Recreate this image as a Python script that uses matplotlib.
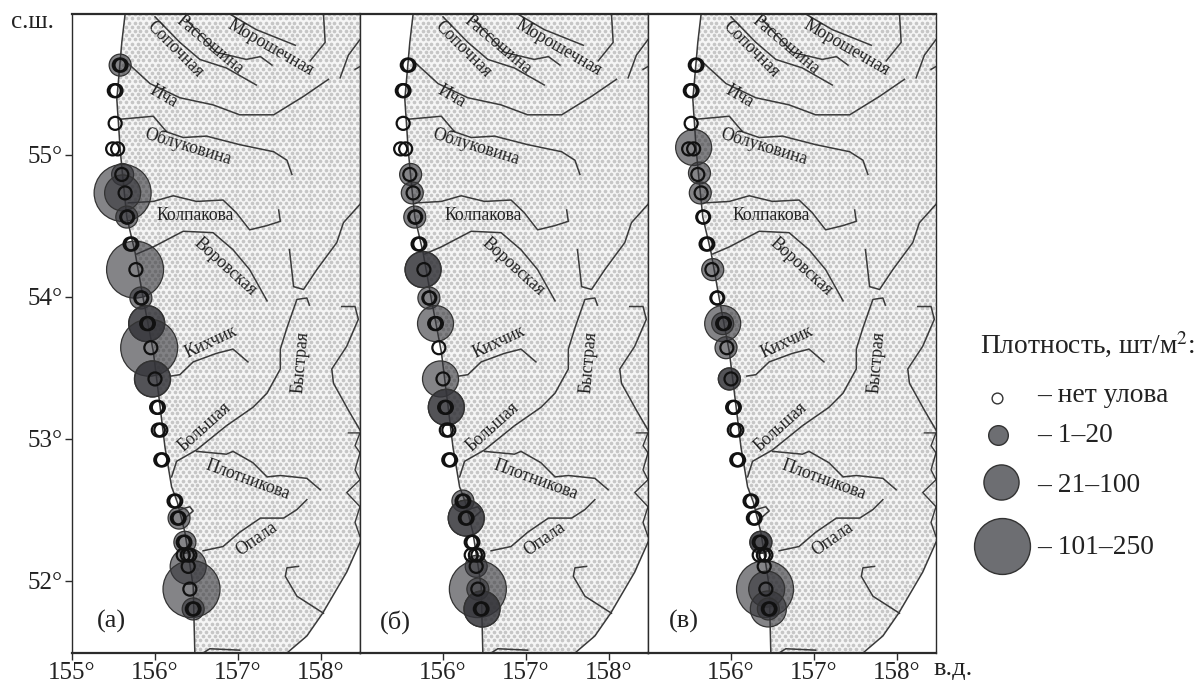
#!/usr/bin/python
# Stations and catch density along west Kamchatka, three surveys

import numpy as np
import matplotlib
matplotlib.use("Agg")
import matplotlib.pyplot as plt
from matplotlib.patches import Polygon

plt.rcParams['font.family'] = ['Liberation Serif', 'DejaVu Serif']

#################################
# data, degrees
#################################
lon_min, lon_max = 155.0, 158.47
lat_min, lat_max = 51.49, 55.99
x_ticks = [155, 156, 157, 158]
y_ticks = [52, 53, 54, 55]

coast_west = [(155.64, 55.99), (155.60, 55.79), (155.54, 55.39), (155.58, 55.04), (155.61, 54.85),
              (155.66, 54.56), (155.76, 54.31), (155.86, 53.98), (155.98, 53.61), (156.06, 53.23),
              (156.12, 52.94), (156.20, 52.66), (156.27, 52.55), (156.36, 52.34), (156.46, 51.96),
              (156.48, 51.49)]
coast_east = [(157.59, 51.49), (157.83, 51.61), (158.02, 51.77), (158.31, 52.06), (158.47, 52.27)]
coast_jag = [(158.33, 53.04), (158.47, 53.04), (158.41, 52.95), (158.47, 52.90), (158.41, 52.78),
             (158.47, 52.71), (158.31, 52.62), (158.47, 52.52), (158.41, 52.41), (158.47, 52.31)]

rivers = [
    [(156.00, 55.97), (156.30, 55.79), (156.54, 55.67), (156.86, 55.61), (157.22, 55.49)],
    [(156.38, 55.95), (156.74, 55.72), (157.10, 55.67), (157.27, 55.69), (157.41, 55.63)],
    [(156.90, 55.99), (157.22, 55.88), (157.69, 55.77)],
    [(158.03, 55.99), (158.05, 55.79), (157.87, 55.66)],
    [(155.66, 55.65), (155.94, 55.50), (156.30, 55.40), (156.70, 55.35), (157.02, 55.28),
     (157.43, 55.28), (157.79, 55.41), (158.09, 55.53)],
    [(155.60, 55.25), (155.98, 55.27), (156.14, 55.16), (156.34, 55.12), (156.62, 55.13),
     (157.02, 55.07), (157.43, 55.02), (157.59, 54.96), (157.65, 54.86)],
    [(155.68, 54.66), (155.98, 54.67), (156.22, 54.71), (156.50, 54.67), (156.82, 54.68),
     (156.98, 54.59), (157.14, 54.47), (157.35, 54.50), (157.51, 54.53), (157.49, 54.61)],
    [(155.78, 54.30), (155.98, 54.35), (156.34, 54.46), (156.70, 54.45), (156.94, 54.33),
     (157.14, 54.19), (157.35, 53.97)],
    [(158.47, 55.81), (158.33, 55.70), (158.23, 55.54)],
    [(158.41, 55.60), (158.47, 55.62)],
    [(158.47, 54.65), (158.27, 54.52), (158.19, 54.38), (157.95, 54.19), (157.79, 54.05),
     (157.67, 54.07), (157.62, 54.33)],
    [(157.86, 53.94), (157.83, 53.99), (157.71, 53.98), (157.59, 53.78), (157.51, 53.63),
     (157.51, 53.49), (157.35, 53.32), (157.18, 53.22), (156.86, 53.09), (156.50, 52.92),
     (156.26, 52.84), (156.20, 52.73)],
    [(158.25, 53.93), (158.41, 53.93), (158.45, 53.84), (158.31, 53.65), (158.13, 53.49),
     (158.15, 53.39), (158.33, 53.20), (158.47, 53.06)],
    [(156.50, 52.91), (156.86, 52.89), (156.94, 52.91), (157.18, 52.83), (157.35, 52.73),
     (157.51, 52.74), (157.83, 52.72), (157.99, 52.64)],
    [(156.19, 53.44), (156.30, 53.45), (156.46, 53.54), (156.74, 53.60), (156.94, 53.63),
     (157.12, 53.54)],
    [(156.58, 52.21), (156.82, 52.24), (157.02, 52.34), (157.27, 52.44), (157.55, 52.44),
     (157.71, 52.50), (157.83, 52.57)],
    [(157.73, 52.10), (157.59, 52.09), (157.57, 52.03), (157.71, 51.89), (158.03, 51.77)],
    [(156.58, 51.49), (156.66, 51.52), (157.02, 51.51)],
    [(156.30, 52.50), (156.42, 52.52), (156.46, 52.49), (156.38, 52.45)],
]

river_names = ['Морошечная', 'Рассошина', 'Сопочная', 'Ича', 'Облуковина', 'Колпакова',
               'Воровская', 'Кихчик', 'Быстрая', 'Большая', 'Плотникова', 'Опала']
name_lon = [157.39, 156.66, 156.24, 156.10, 156.40, 156.48, 156.84, 156.67, 157.75, 156.60, 157.12, 157.23]
name_lat = [55.75, 55.77, 55.74, 55.41, 55.06, 54.57, 54.21, 53.68, 53.54, 53.08, 52.71, 52.29]
name_rot = [-30, -40, -45, -30, -17, 0, -42, 25, 85, 42, -20, 35]

# stations without catch (some were done twice, so rings double)
ring_lon = [155.57, 155.59, 155.51, 155.53, 155.52, 155.49, 155.55, 155.60, 155.64, 155.66, 155.67,
            155.70, 155.72, 155.77, 155.83, 155.84, 155.92, 155.90, 155.95, 156.00, 156.02, 156.04,
            156.04, 156.07, 156.07, 156.09, 156.23, 156.25, 156.27, 156.29, 156.36, 156.34, 156.34,
            156.39, 156.42, 156.40, 156.42, 156.45, 156.47]
ring_lat = [55.63, 55.63, 55.45, 55.45, 55.22, 55.04, 55.04, 54.86, 54.73, 54.56, 54.56,
            54.37, 54.37, 54.19, 53.99, 53.99, 53.81, 53.81, 53.64, 53.42, 53.22, 53.22,
            53.06, 53.06, 52.85, 52.85, 52.56, 52.56, 52.44, 52.44, 52.27, 52.27, 52.18,
            52.18, 52.18, 52.10, 51.94, 51.80, 51.80]

# catches: lon, lat, size class 1..3
a_lon = [155.58, 155.61, 155.61, 155.61, 155.66, 155.76, 155.83, 155.90, 155.90, 155.93, 155.97, 155.97, 156.29, 156.36, 156.40, 156.44, 156.46]
a_lat = [55.63, 54.86, 54.73, 54.73, 54.56, 54.19, 53.99, 53.81, 53.81, 53.64, 53.42, 53.42, 52.44, 52.27, 52.10, 51.94, 51.80]
a_cls = [1, 1, 3, 2, 1, 3, 1, 2, 2, 3, 2, 2, 1, 1, 2, 3, 1]

b_lon = [155.61, 155.63, 155.66, 155.76, 155.76, 155.83, 155.91, 155.97, 156.04, 156.04, 156.24, 156.28, 156.28, 156.40, 156.42, 156.42, 156.47, 156.47]
b_lat = [54.86, 54.73, 54.56, 54.19, 54.19, 53.99, 53.81, 53.42, 53.22, 53.22, 52.56, 52.44, 52.44, 52.10, 51.94, 51.94, 51.80, 51.80]
b_cls = [1, 1, 1, 2, 2, 1, 2, 2, 2, 2, 1, 2, 2, 1, 3, 1, 2, 2]

c_lon = [155.55, 155.62, 155.63, 155.78, 155.90, 155.90, 155.94, 155.98, 155.98, 156.36, 156.36, 156.41, 156.43, 156.45, 156.45]
c_lat = [55.05, 54.87, 54.73, 54.19, 53.81, 53.81, 53.64, 53.42, 53.42, 52.27, 52.27, 51.94, 51.94, 51.80, 51.80]
c_cls = [2, 1, 1, 1, 2, 1, 1, 1, 1, 1, 1, 3, 2, 2, 1]

panel_names = ['(а)', '(б)', '(в)']
legend_labels = ['– нет улова', '– 1–20', '– 21–100', '– 101–250']

#################################
# styles
#################################
size_by_class = {0: 88, 1: 250, 2: 672, 3: 1684}   # pt^2
line_col = '#3a3a3a'
frame_col = '#2b2b2b'
fill_col = (0.2, 0.2, 0.22, 0.6)
fsize = 18

fig = plt.figure(figsize=(12, 6.87), dpi=100)
W, H = 1200.0, 687.0

# stipple for land
dot_x, dot_y = np.meshgrid(np.arange(lon_min, lon_max, 0.0687), np.arange(lat_min, lat_max, 0.0296))
dot_x = dot_x + 0.03435 * (np.arange(dot_x.shape[0]) % 2)[:, None]

panels = [(a_lon, a_lat, a_cls), (b_lon, b_lat, b_cls), (c_lon, c_lat, c_cls)]
lefts = [72, 360, 648]
for n in range(3):
    ax = fig.add_axes([lefts[n] / W, 34 / H, 288 / W, 639 / H])
    ax.set_xlim(lon_min, lon_max)
    ax.set_ylim(lat_min, lat_max)

    land = Polygon(coast_west + coast_east + [(lon_max, lat_max)], closed=True,
                   facecolor='#f6f6f6', edgecolor='none', zorder=1)
    ax.add_patch(land)
    dots = ax.scatter(dot_x.ravel(), dot_y.ravel(), s=7, color='#c6c6c6', linewidths=0, zorder=1.5)
    dots.set_clip_path(land)

    ax.plot(*zip(*coast_jag), color=line_col, lw=1.0, zorder=2)
    ax.plot(*zip(*coast_west), color=line_col, lw=1.1, zorder=2)
    ax.plot(*zip(*coast_east), color=line_col, lw=1.1, zorder=2)
    for river in rivers:
        ax.plot(*zip(*river), color=line_col, lw=1.1, zorder=2)

    for name, x, y, r in zip(river_names, name_lon, name_lat, name_rot):
        ax.text(x, y, name, rotation=r, rotation_mode='anchor', ha='center', va='center',
                fontsize=12.7, color='#222222', zorder=2.5)

    lon, lat, cls = panels[n]
    ax.scatter(lon, lat, s=[size_by_class[c] for c in cls], facecolor=fill_col,
               edgecolor='#333333', linewidths=0.9, zorder=3)
    ax.scatter(ring_lon, ring_lat, s=size_by_class[0], facecolor='none',
               edgecolor='#111111', linewidths=1.6, zorder=4)

    ax.text(155.48 if n == 0 else 155.43, 51.71, panel_names[n], fontsize=19, ha='center', va='center',
            color='#222222', zorder=5)

    ax.set_xticks(x_ticks if n == 0 else x_ticks[1:])
    ax.set_xticklabels(['%d°' % t for t in (x_ticks if n == 0 else x_ticks[1:])], fontsize=fsize, color='#222222')
    ax.set_yticks(y_ticks if n == 0 else [])
    if n == 0:
        ax.set_yticklabels(['%d°' % t for t in y_ticks], fontsize=fsize, color='#222222')
    ax.tick_params(axis='both', length=5, width=1.0, color=frame_col, pad=1.5)
    for side in ax.spines:
        ax.spines[side].set_color(frame_col)
        ax.spines[side].set_linewidth(1.0)
    ax.spines['top'].set_linewidth(1.6)
    ax.spines['bottom'].set_linewidth(1.6)

# overlay in pixels for the outer labels and the legend
ov = fig.add_axes([0, 0, 1, 1])
ov.set_xlim(0, W)
ov.set_ylim(H, 0)
ov.axis('off')
ov.patch.set_alpha(0)

ov.text(11, 22, 'с.ш.', fontsize=18, va='center', color='#222222')
ov.text(933, 669, 'в.д.', fontsize=19, va='center', color='#222222')

ov.text(980, 345, 'Плотность, шт/м$^2$:', fontsize=19.8, va='center', color='#222222',
        math_fontfamily='stix')
leg_x = [997, 998, 1001, 1002]
leg_y = [398, 435, 482, 546]
leg_txt_y = [395, 435, 485, 547]
for k in range(4):
    face = 'white' if k == 0 else '#6d6e72'
    ov.scatter([leg_x[k]], [leg_y[k]], s=[60, 200, 640, 1620][k], facecolor=face,
               edgecolor='#333333', linewidths=1.0)
    ov.text(1037, leg_txt_y[k], legend_labels[k], fontsize=19.8, va='center', color='#222222')

fig.savefig('out.png', dpi=100)
